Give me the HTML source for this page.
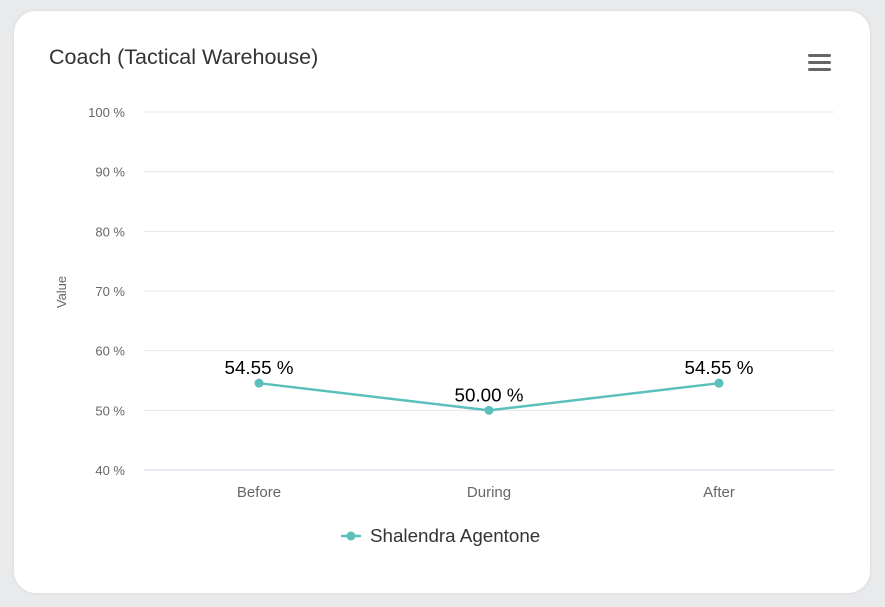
<!DOCTYPE html>
<html><head><meta charset="utf-8"><style>
html,body{margin:0;padding:0;width:885px;height:607px;overflow:hidden;background:#e9eaec;font-family:"Liberation Sans",sans-serif;}
.card{position:absolute;left:14px;top:11px;width:856px;height:582px;background:#fff;border-radius:22px;box-shadow:0 0 4px rgba(0,0,0,0.08);}
svg{position:absolute;left:0;top:0;}
</style></head><body>
<div class="card"></div>
<svg id="chart" width="885" height="607">
<text x="49" y="64" font-size="21.5" fill="#333">Coach (Tactical Warehouse)</text>
<g>
<rect x="808" y="54" width="23" height="3" rx="1.5" fill="#666"/>
<rect x="808" y="61" width="23" height="3" rx="1.5" fill="#666"/>
<rect x="808" y="68" width="23" height="3" rx="1.5" fill="#666"/>
</g>
<text transform="translate(66,292) rotate(-90)" text-anchor="middle" font-size="13" fill="#666">Value</text>
<g id="grid"></g><g id="marks"></g>
<g>
<line x1="341" y1="536" x2="361" y2="536" stroke="#5bbfbb" stroke-width="2.5"/>
<circle cx="351" cy="536" r="4.5" fill="#5bbfbb"/>
<text x="370" y="542" font-size="18.8" fill="#333">Shalendra Agentone</text>
</g>
</svg>
<script>
const categories = ["Before","During","After"];
const values = [54.55, 50.00, 54.55];
const valueLabels = ["54.55 %","50.00 %","54.55 %"];
const yTicks = [40,50,60,70,80,90,100];
const NS="http://www.w3.org/2000/svg";
const x0=144,x1=834,yTop=112,yBot=470,vmin=40,vmax=100;
const yS=v=>yBot-(v-vmin)/(vmax-vmin)*(yBot-yTop);
const xS=i=>x0+(i+0.5)*(x1-x0)/categories.length;
function mk(t,a,p){const e=document.createElementNS(NS,t);for(const k in a)e.setAttribute(k,a[k]);p.appendChild(e);return e;}
const grid=document.getElementById('grid'),marks=document.getElementById('marks');
yTicks.forEach(t=>{
 const l=mk('line',{x1:x0,x2:x1,y1:yS(t),y2:yS(t),stroke:t===vmin?'#ccd6eb':'#e6e6e6','stroke-width':1},grid);
 
 
 const tx=mk('text',{x:125,y:yS(t)+5,'text-anchor':'end','font-size':13,fill:'#666'},grid);
 tx.textContent=t+' %';
 
 
});
categories.forEach((c,i)=>{
 const tx=mk('text',{x:xS(i),y:497,'text-anchor':'middle','font-size':15,fill:'#666'},grid);
 tx.textContent=c;
 
 
});
const pl=mk('polyline',{points:values.map((v,i)=>xS(i)+','+yS(v)).join(' '),fill:'none',stroke:'#5bbfbb','stroke-width':2.5},marks);


values.forEach((v,i)=>{
 const c=mk('circle',{cx:xS(i),cy:yS(v),r:4.5,fill:'#5bbfbb'},marks);
 
 
 const t=mk('text',{x:xS(i),y:yS(v)-9,'text-anchor':'middle','font-size':18.8,fill:'#000'},marks);
 t.textContent=valueLabels[i];
 
 
});
</script>
</body></html>
